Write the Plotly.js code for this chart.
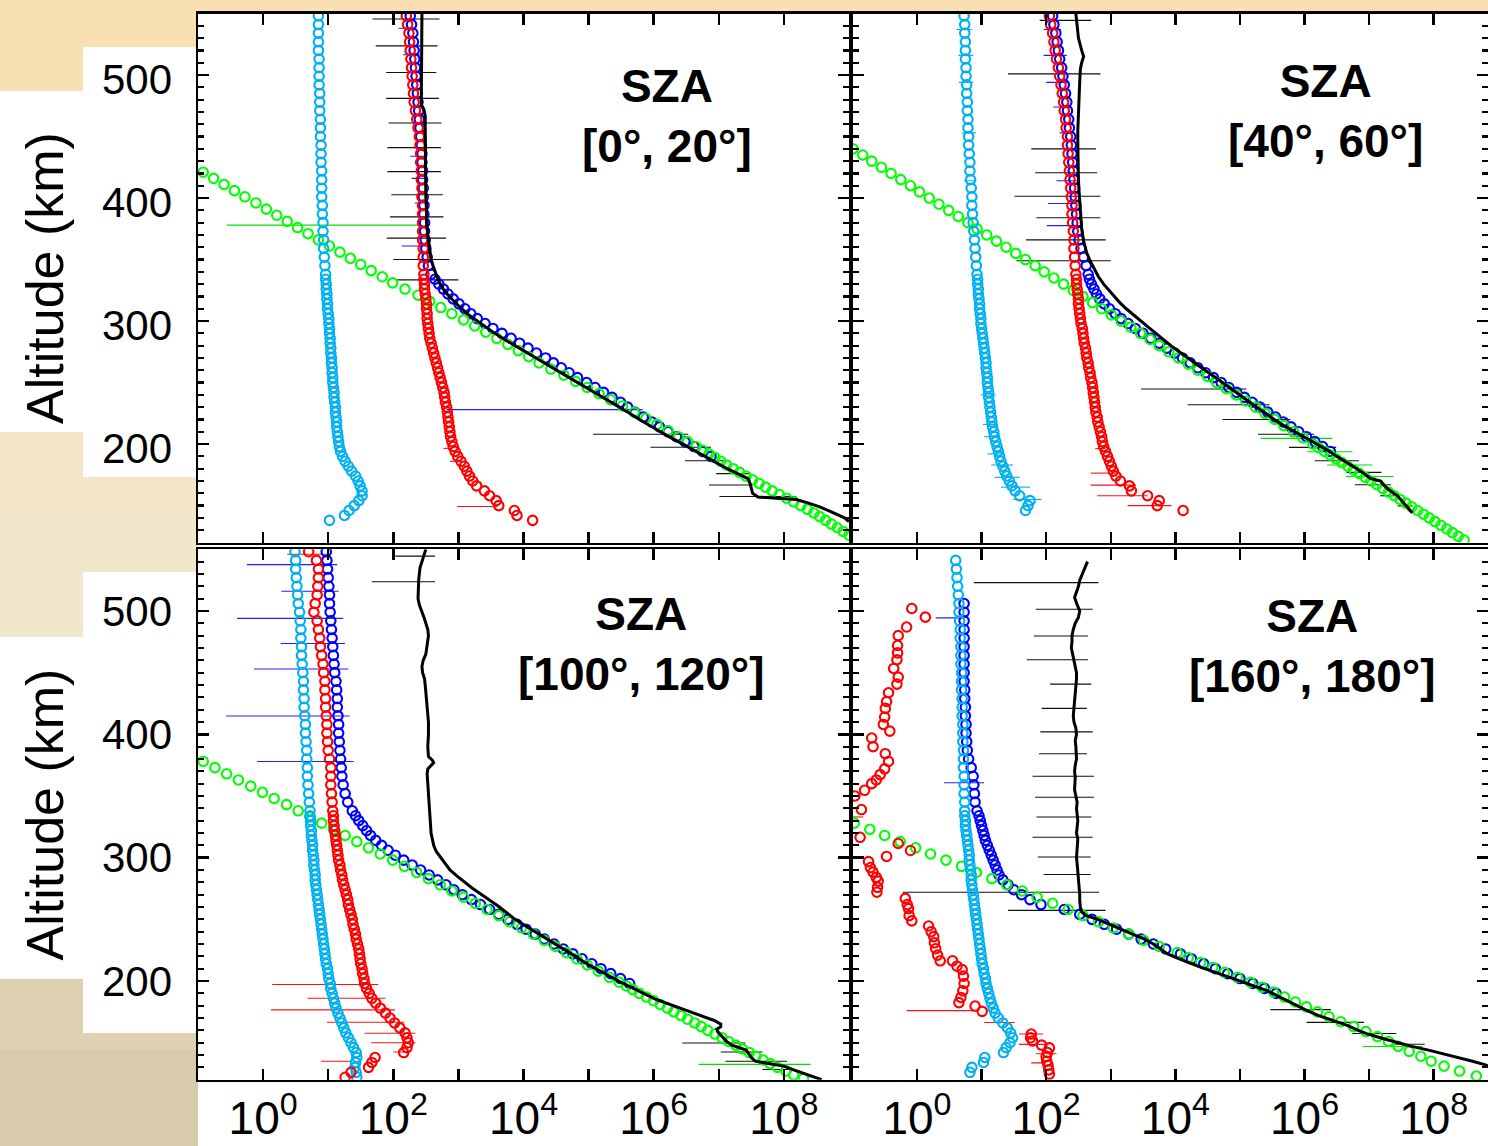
<!DOCTYPE html>
<html><head><meta charset="utf-8">
<script src="https://cdn.plot.ly/plotly-3.0.1.min.js"></script>
<style>html,body{margin:0;padding:0;background:#fff;}#chart{width:1488px;height:1146px;}</style>
</head><body><div id="chart"></div>
<script>
// ===================== DATA (log10 of density, altitude in km) =====================
// Shared altitude grid of the retrieved ion profiles (cyan, red, blue markers)
const ALT_HI = [548,541,534,527,520,513,506,499,492,485,478,471,464,457,450,443,436,429,422,415,408,401,394,387,380,373,366,359,352,345,338];
const ALT_LO = [334,330,326,322,318,314,310,306,302,298,
                294,290,286,282,278,274,270,266,262,258,
                254,250,246,242,238,234,230,226,222,218,
                214,210,206,202,198,194,190,186,182,178,
                174,170,166,162,158,154,150,146,142,138,
                134,130,126,122];

// ---- SZA [0°, 20°] (top left) ----
const TL_CYAN = [0.85,0.85,0.85,0.85,0.85,0.86,0.86,0.86,0.86,0.87,0.87,0.87,0.88,0.88,0.88,0.89,0.89,0.89,0.90,0.90,0.90,0.90,0.91,0.91,0.92,0.92,0.93,0.93,0.94,0.95,0.96,
  0.96,0.97,0.97,0.98,0.98,0.99,0.99,1.00,1.01,1.01,
  1.02,1.02,1.03,1.03,1.04,1.04,1.05,1.05,1.06,1.06,
  1.07,1.07,1.08,1.09,1.09,1.10,1.11,1.11,1.12,1.13,
  1.13,1.14,1.15,1.16,1.17,1.19,1.22,1.26,1.31,1.36,
  1.42,1.46,1.49,1.52,1.52,1.47,1.40,1.32,1.25,1.02,
  null,null,null,null];
const TL_RED = [2.20,2.22,2.24,2.25,2.26,2.27,2.28,2.29,2.30,2.31,2.32,2.34,2.36,2.38,2.40,2.41,2.42,2.42,2.43,2.43,2.44,2.44,2.45,2.45,2.45,2.45,2.45,2.46,2.46,2.46,2.47,
  2.47,2.48,2.48,2.49,2.50,2.51,2.51,2.52,2.52,2.53,
  2.54,2.55,2.56,2.58,2.60,2.62,2.64,2.66,2.68,2.70,
  2.72,2.74,2.76,2.78,2.79,2.80,2.82,2.83,2.84,2.85,
  2.86,2.87,2.88,2.90,2.92,2.95,2.99,3.04,3.09,3.13,
  3.17,3.22,3.28,3.40,3.48,3.58,3.62,3.86,3.90,4.14,
  null,null,null,null];
const TL_BLUE = [2.26,2.28,2.30,2.31,2.32,2.33,2.34,2.35,2.36,2.37,2.38,2.39,2.40,2.41,2.42,2.43,2.44,2.44,2.45,2.45,2.46,2.46,2.47,2.47,2.48,2.48,2.49,2.50,2.52,2.54,2.58,
  2.64,2.70,2.77,2.84,2.92,3.01,3.10,3.19,3.29,3.41,
  3.53,3.67,3.81,3.94,4.07,4.20,4.34,4.46,4.58,4.70,
  4.83,4.97,5.10,5.23,5.36,5.49,5.60,5.71,5.84,5.97,
  6.09,6.22,6.35,6.48,6.62,6.75,6.88,null,null,null,
  null,null,null,null,null,null,null,null,null,null,
  null,null,null,null];
const TL_GREEN_ALT = [421,416,411,406,401,396,391,386,381,376,371,366,361,356,351,346,341,336,331,326,321,316,311,306,301,296,291,286,281,276,271,266,261,256,251,246,241,236,231,226,221,216,211,206,202,198,195,192,189,186,183,180,177,174,171,168,165,162,159,156,153,150,147,144,141,138,135,132,129,126];
const TL_GREEN = [-0.92,-0.76,-0.60,-0.44,-0.28,-0.11,0.05,0.21,0.37,0.53,0.69,0.85,1.02,1.18,1.34,1.50,1.66,1.83,1.99,2.18,2.38,2.56,2.73,2.90,3.08,3.25,3.42,3.59,3.76,3.92,4.08,4.24,4.42,4.62,4.80,4.98,5.16,5.34,5.52,5.70,5.88,6.05,6.22,6.38,6.52,6.65,6.75,6.85,6.94,7.03,7.12,7.22,7.32,7.42,7.52,7.62,7.72,7.82,7.93,8.04,8.15,8.26,8.36,8.46,8.55,8.64,8.73,8.82,8.91,9.00];
const TL_BLACK_ALT = [550,540,530,520,510,500,490,480,476,472,467,460,450,440,430,420,410,400,390,380,370,360,350,345,340,335,330,325,320,315,310,305,300,295,290,285,280,275,270,265,260,255,250,245,240,235,230,225,220,215,210,205,200,195,190,185,180,175,172,168,164,160,157,156,155,152,149,145,140,137];
const TL_BLACK = [2.44,2.44,2.43,2.43,2.44,2.44,2.43,2.43,2.43,2.47,2.49,2.49,2.49,2.49,2.49,2.49,2.50,2.50,2.51,2.51,2.53,2.55,2.58,2.61,2.64,2.68,2.72,2.78,2.86,2.95,3.05,3.16,3.29,3.43,3.56,3.71,3.87,4.05,4.21,4.37,4.53,4.69,4.85,5.01,5.16,5.32,5.48,5.63,5.78,5.94,6.10,6.27,6.45,6.62,6.78,6.95,7.13,7.33,7.45,7.48,7.50,7.52,7.60,7.85,8.19,8.38,8.55,8.72,8.93,9.00];
// error bars: [altitude, log10 low end, log10 high end]
const TL_ERR_BLACK = [[545.5,1.68,2.71],[523.7,1.73,2.68],[502,1.89,2.66],[481,1.89,2.70],[461,1.93,2.74],[441,1.91,2.73],[421.5,1.91,2.73],[402.7,1.97,2.76],[384.7,1.95,2.77],[367.4,1.90,2.81],[350,2.00,2.86],[333.5,2.06,3.00],[208,5.07,6.53],[197.4,5.95,6.88],[186.4,6.48,7.17],[176,6.96,7.48],[166.7,6.85,7.52],[157.4,7.01,8.19]];
const TL_ERR_GREEN = [[378,-0.56,2.40]];
const TL_ERR_BLUE = [[538,2.08,2.31],[516.5,2.15,2.41],[434,2.26,2.49],[416,2.28,2.51],[396,2.33,2.56],[361,2.13,2.56],[228,2.82,5.83]];
const TL_ERR_RED = [[196.5,2.77,2.90],[186,2.87,3.07],[149.3,2.98,3.60]];

// ---- SZA [40°, 60°] (top right) ----
const TR_CYAN = [0.73,0.74,0.74,0.75,0.75,0.75,0.76,0.76,0.77,0.77,0.78,0.78,0.79,0.79,0.80,0.80,0.81,0.82,0.82,0.83,0.84,0.85,0.85,0.86,0.87,0.88,0.89,0.90,0.91,0.92,0.93,
  0.94,0.94,0.95,0.95,0.96,0.97,0.97,0.98,0.99,0.99,
  1.00,1.01,1.02,1.03,1.04,1.05,1.06,1.07,1.07,1.08,
  1.09,1.09,1.10,1.11,1.11,1.12,1.13,1.14,1.15,1.16,
  1.17,1.19,1.20,1.22,1.24,1.26,1.28,1.30,1.33,1.36,
  1.39,1.43,1.47,1.52,1.59,1.75,1.72,1.68,null,null,
  null,null,null,null];
const TR_RED = [2.05,2.07,2.10,2.12,2.14,2.16,2.19,2.21,2.23,2.25,2.27,2.28,2.30,2.31,2.33,2.33,2.34,2.35,2.36,2.37,2.38,2.39,2.40,2.40,2.41,2.42,2.43,2.43,2.44,2.45,2.46,
  2.47,2.47,2.48,2.49,2.50,2.50,2.51,2.52,2.53,2.54,
  2.56,2.57,2.58,2.59,2.61,2.62,2.63,2.65,2.66,2.68,
  2.69,2.71,2.72,2.73,2.74,2.75,2.76,2.77,2.79,2.80,
  2.82,2.84,2.86,2.87,2.89,2.92,2.95,2.98,3.01,3.04,
  3.08,3.15,3.29,3.32,3.57,3.75,3.72,4.12,null,null,
  null,null,null,null];
const TR_BLUE = [2.10,2.12,2.15,2.17,2.19,2.21,2.24,2.26,2.28,2.30,2.32,2.33,2.35,2.36,2.38,2.39,2.40,2.41,2.42,2.43,2.44,2.45,2.46,2.47,2.48,2.49,2.51,2.54,2.58,2.62,2.65,
  2.67,2.70,2.74,2.78,2.83,2.90,2.98,3.07,3.16,3.27,
  3.38,3.50,3.62,3.75,3.87,3.99,4.11,4.23,4.35,4.47,
  4.59,4.71,4.83,4.95,5.07,5.19,5.31,5.43,5.55,5.67,
  5.79,5.91,6.03,6.16,6.28,6.40,null,null,null,null,
  null,null,null,null,null,null,null,null,null,null,
  null,null,null,null];
const TR_GREEN_ALT = [440,435,430,425,420,415,410,405,400,395,390,385,380,375,370,365,360,355,350,345,340,335,330,325,320,315,310,305,300,295,290,285,280,275,270,265,260,255,250,245,240,235,230,225,220,215,210,205,200,197,194,191,188,185,182,179,176,173,170,167,164,161,158,155,152,149,146,143,140,137,134,131,128,125,122];
const TR_GREEN = [-0.99,-0.84,-0.70,-0.55,-0.40,-0.25,-0.10,0.04,0.19,0.34,0.49,0.64,0.79,0.93,1.08,1.23,1.38,1.53,1.68,1.83,1.97,2.12,2.27,2.42,2.57,2.72,2.86,3.01,3.16,3.31,3.46,3.61,3.75,3.90,4.05,4.20,4.35,4.50,4.64,4.79,4.94,5.09,5.24,5.39,5.54,5.68,5.83,5.98,6.13,6.22,6.31,6.40,6.49,6.58,6.67,6.76,6.85,6.94,7.03,7.12,7.21,7.30,7.39,7.48,7.57,7.66,7.75,7.84,7.93,8.02,8.11,8.20,8.29,8.38,8.47];
const TR_BLACK_ALT = [550,540,530,520,515,510,505,495,485,475,465,455,445,435,425,415,405,395,385,375,365,355,348,342,336,330,325,320,315,310,305,300,295,290,285,280,275,270,265,260,255,250,245,240,235,230,225,220,215,210,205,200,195,190,185,180,175,172,170,167,163,158,153,148,144];
const TR_BLACK = [2.46,2.48,2.50,2.55,2.58,2.55,2.53,2.52,2.51,2.50,2.49,2.49,2.49,2.49,2.50,2.50,2.51,2.52,2.53,2.55,2.58,2.63,2.69,2.75,2.81,2.89,2.97,3.05,3.14,3.24,3.35,3.46,3.58,3.70,3.81,3.93,4.06,4.19,4.33,4.46,4.60,4.73,4.86,4.99,5.12,5.26,5.40,5.53,5.68,5.85,6.02,6.20,6.36,6.50,6.66,6.81,6.95,7.02,7.18,7.22,7.30,7.44,7.52,7.60,7.67];
const TR_ERR_BLACK = [[544.4,1.90,2.70],[500.9,1.41,2.84],[440,1.77,2.77],[420.6,1.83,2.79],[401.5,1.51,2.84],[384,1.85,2.84],[366,1.69,2.92],[349,1.54,3.00],[244.8,3.47,5.10],[232,4.19,5.46],[220,4.73,5.78],[208,5.28,6.15],[197.3,5.76,6.49],[186.4,6.16,6.84],[177,6.65,7.19],[167,6.78,7.34],[158,7.17,7.39],[149.7,7.44,7.67]];
const TR_ERR_GREEN = [[204.6,5.32,6.43],[193.8,6.04,6.74],[183,6.35,7.05],[173.6,6.64,7.38]];
const TR_ERR_RED = [[196.3,2.76,2.92],[176.4,2.69,3.10],[166.6,2.69,3.39],[158,2.79,3.57],[150,3.26,3.94]];
const TR_ERR_BLUE = [[537,1.96,2.23],[516,1.96,2.32],[494,2.00,2.36],[474,2.11,2.36],[453,2.21,2.43],[414,2.16,2.48],[395.5,2.03,2.48],[377.6,2.01,2.53]];
const TR_ERR_CYAN = [[537,0.61,0.85],[516,0.64,0.87],[494,0.65,0.87],[453,0.70,0.91],[414,0.73,0.92],[240,0.99,1.22],[216,1.02,1.25],[206,1.04,1.28],[192,1.09,1.35],[183,1.15,1.49],[173,1.20,1.59],[165,1.30,1.75],[155,1.49,1.93]];

// ---- SZA [100°, 120°] (bottom left) ----
const BL_CYAN = [0.49,0.50,0.50,0.51,0.52,0.53,0.54,0.56,0.57,0.58,0.58,0.59,0.59,0.60,0.61,0.62,0.62,0.63,0.63,0.64,0.65,0.65,0.66,0.67,0.67,0.68,0.68,0.69,0.70,0.71,0.72,
  0.72,0.73,0.73,0.74,0.74,0.75,0.76,0.76,0.77,0.78,
  0.78,0.79,0.80,0.80,0.81,0.82,0.83,0.84,0.85,0.86,
  0.87,0.88,0.89,0.90,0.91,0.92,0.93,0.94,0.95,0.96,
  0.97,0.99,1.00,1.01,1.03,1.04,1.06,1.08,1.10,1.12,
  1.15,1.18,1.21,1.24,1.27,1.31,1.35,1.39,1.43,1.44,
  1.42,1.41,1.43,1.44];
const BL_RED = [0.70,0.82,0.85,0.85,0.84,0.83,0.80,0.78,0.83,0.85,0.87,0.88,0.90,0.92,0.93,0.95,0.95,0.96,0.96,0.97,0.98,0.98,0.99,1.00,1.02,1.04,1.04,1.04,1.05,1.06,1.07,
  1.08,1.08,1.09,1.10,1.11,1.12,1.13,1.14,1.15,1.16,
  1.18,1.19,1.21,1.22,1.24,1.26,1.28,1.30,1.31,1.33,
  1.35,1.37,1.38,1.40,1.42,1.43,1.45,1.47,1.48,1.49,
  1.50,1.52,1.53,1.55,1.56,1.59,1.63,1.67,1.73,1.80,
  1.88,1.95,2.02,2.10,2.18,2.21,2.23,2.21,2.16,1.72,
  1.67,1.62,1.35,1.26];
const BL_BLUE = [0.97,0.98,0.99,1.00,1.01,1.02,1.02,1.03,1.04,1.05,1.06,1.07,1.08,1.09,1.10,1.12,1.13,1.14,1.14,1.15,1.16,1.16,1.17,1.18,1.19,1.20,1.21,1.23,1.26,1.30,1.37,
  1.42,1.47,1.53,1.59,1.65,1.73,1.82,1.92,2.03,2.16,
  2.29,2.42,2.55,2.68,2.81,2.93,3.06,3.20,3.34,3.48,
  3.62,3.76,3.90,4.04,4.18,4.32,4.47,4.61,4.76,4.90,
  5.05,5.19,5.34,5.49,5.63,null,null,null,null,null,
  null,null,null,null,null,null,null,null,null,null,
  null,null,null,null];
const BL_GREEN_ALT = [378,373,368,363,358,353,348,343,338,333,328,323,318,313,308,303,298,293,288,283,278,273,268,263,258,253,248,243,238,233,228,223,218,213,208,203,199,196,193,190,187,184,181,178,175,172,169,166,163,160,157,154,151,148,145,142,139,136,133,130,127,124,121];
const BL_GREEN = [-0.92,-0.74,-0.56,-0.38,-0.19,-0.01,0.17,0.36,0.54,0.72,0.90,1.08,1.26,1.44,1.62,1.80,1.99,2.17,2.36,2.54,2.72,2.90,3.08,3.26,3.44,3.62,3.79,3.97,4.15,4.32,4.49,4.66,4.82,4.98,5.15,5.32,5.47,5.58,5.68,5.78,5.89,6.00,6.10,6.21,6.31,6.42,6.52,6.63,6.73,6.83,6.94,7.05,7.15,7.26,7.36,7.47,7.57,7.68,7.79,7.90,8.03,8.15,8.30];
const BL_BLACK_ALT = [550,545,540,535,525,515,510,505,500,495,490,485,480,475,470,465,460,455,450,445,440,430,420,410,400,390,382,379,377,375,372,368,360,350,340,330,320,315,310,305,300,295,290,285,280,275,270,265,260,255,250,245,240,235,230,225,220,215,210,205,200,195,190,185,180,176,172,168,165,163,161,159,155,151,148,146,144,141,138,135,133,131,128,124,120];
const BL_BLACK = [2.50,2.47,2.43,2.41,2.39,2.38,2.38,2.40,2.44,2.47,2.50,2.53,2.54,2.53,2.52,2.50,2.46,2.44,2.45,2.48,2.49,2.51,2.53,2.54,2.54,2.53,2.54,2.60,2.62,2.58,2.53,2.52,2.53,2.54,2.55,2.56,2.58,2.60,2.62,2.66,2.73,2.80,2.87,2.98,3.10,3.22,3.36,3.50,3.63,3.75,3.87,4.02,4.18,4.34,4.50,4.66,4.80,4.94,5.11,5.28,5.46,5.65,5.84,6.04,6.30,6.52,6.73,6.93,7.03,7.03,6.97,6.98,7.05,7.12,7.20,7.30,7.42,7.46,7.50,7.56,7.80,8.00,8.15,8.36,8.58];
const BL_ERR_BLACK = [[544.5,2.03,2.64],[523.7,1.67,2.64],[149.7,6.44,7.41],[142.5,7.03,7.67],[135,7.10,8.05],[128.3,7.67,8.15]];
const BL_ERR_GREEN = [[132.4,6.69,8.41]];
const BL_ERR_BLUE = [[537.6,-0.25,1.14],[516,0.28,1.16],[494,-0.40,1.23],[473.6,0.27,1.26],[453,-0.14,1.31],[414.8,-0.57,1.33],[378,-0.09,1.39]];
const BL_ERR_RED = [[546,0.37,1.00],[197.2,0.14,1.77],[186,0.68,1.88],[176.6,0.12,2.03],[166.6,0.98,2.17],[157.7,1.56,2.34],[149.9,1.66,2.34],[142.4,2.00,2.23],[134.9,0.89,1.36]];

// ---- SZA [160°, 180°] (bottom right) ----
const BR_CYAN = [null,0.60,0.61,0.62,0.63,0.64,0.65,0.65,0.66,0.67,0.67,0.68,0.68,0.68,0.69,0.69,0.69,0.70,0.70,0.70,0.71,0.71,0.71,0.72,0.72,0.72,0.73,0.73,0.73,0.74,0.74,
  0.74,0.75,0.75,0.76,0.77,0.78,0.79,0.80,0.81,0.81,
  0.82,0.83,0.84,0.84,0.85,0.86,0.87,0.88,0.89,0.90,
  0.91,0.92,0.93,0.94,0.95,0.96,0.97,0.98,0.99,1.00,
  1.01,1.03,1.04,1.06,1.07,1.09,1.11,1.13,1.15,1.18,
  1.21,1.26,1.33,1.40,1.45,1.48,1.44,1.38,1.34,1.05,
  1.03,0.85,0.82,null];
const BR_BLUE = [null,null,null,null,null,null,0.73,0.73,0.73,0.73,0.73,0.73,0.73,0.73,0.73,0.73,0.74,0.74,0.75,0.75,0.76,0.76,0.77,0.78,0.80,0.84,0.87,0.88,0.89,0.90,0.93,
  0.96,0.98,1.00,1.02,1.04,1.06,1.09,1.12,1.15,1.18,
  1.21,1.24,1.27,1.33,1.41,1.50,1.62,1.75,1.92,2.28,
  2.52,2.71,2.90,3.09,3.28,3.47,3.66,3.85,4.08,4.25,
  4.44,4.62,4.81,5.00,5.20,5.38,5.56,null,null,null,
  null,null,null,null,null,null,null,null,null,null,
  null,null,null,null];
const BR_RED_ALT = [502,495,487,480,472,466,460.5,453.4,446.4,440.7,433.7,426.6,421,414,408,402.6,397,390,384.3,378,372,367.3,363,360,354.6,350,339,316.5,311.5,305.8,301,296.8,292,288.3,284,281,276,272,267,262,258.7,253,248.8,244.6,240,236,231,226.2,221,216.4,216.4,212,209.3,204,198,192,186.7,182.5,179.7,175.4,157,154,151.4,148,145.8,142,138.7,135,131.7,128,124.6];
const BR_RED = [-0.08,0.13,-0.16,-0.29,-0.30,-0.30,-0.31,-0.36,-0.29,-0.31,-0.44,-0.47,-0.49,-0.50,-0.52,-0.42,-0.70,-0.68,-0.49,-0.44,-0.50,-0.57,-0.63,-0.70,-0.81,-0.96,-0.86,-0.88,-0.29,-0.10,-0.47,-0.75,-0.72,-0.68,-0.63,-0.60,-0.61,-0.62,-0.18,-0.15,-0.13,-0.12,-0.08,0.18,0.22,0.26,0.27,0.29,0.32,0.36,0.55,0.62,0.70,0.72,0.73,0.71,0.68,0.65,0.90,1.01,1.77,1.76,1.79,1.93,2.05,2.02,2.00,2.01,2.03,2.04,2.05];
const BR_GREEN_ALT = [328,323,318,313,308,303,298,293,288,283,278,273,268,263,258,253,248,243,238,233,228,223,219,215,211,207,203,199,195,191,187,183,179,175,171,167,163,159,155,151,147,143,139,135,131,127,123];
const BR_GREEN = [-0.97,-0.73,-0.50,-0.26,-0.02,0.21,0.45,0.69,0.92,1.16,1.39,1.63,1.86,2.10,2.34,2.57,2.81,3.04,3.28,3.51,3.75,4.03,4.20,4.39,4.58,4.76,4.96,5.16,5.34,5.52,5.69,5.86,6.03,6.20,6.38,6.56,6.76,6.95,7.13,7.30,7.45,7.62,7.80,7.96,8.16,8.40,8.66];
const BR_BLACK_ALT = [540,535,530,525,520,515,511,505,500,495,490,485,480,475,470,465,460,455,450,445,440,435,430,425,420,415,410,405,400,395,390,385,380,375,370,365,360,355,350,345,340,335,330,325,320,315,310,305,300,295,290,285,280,275,270,265,260,256,253,250,246,242,238,234,230,226,222,218,214,211,207,203,199,195,192,188,184,180,176,172,168,164,160,157,153,150,147,144,141,138,135,132,130];
const BR_BLACK = [2.64,2.60,2.55,2.52,2.50,2.46,2.44,2.48,2.52,2.50,2.45,2.42,2.40,2.40,2.39,2.41,2.43,2.46,2.47,2.47,2.46,2.45,2.44,2.44,2.43,2.42,2.43,2.46,2.47,2.45,2.46,2.47,2.47,2.45,2.44,2.45,2.44,2.44,2.46,2.48,2.47,2.48,2.49,2.48,2.47,2.49,2.48,2.47,2.47,2.48,2.49,2.50,2.51,2.51,2.52,2.52,2.53,2.55,2.62,2.80,2.98,3.16,3.34,3.52,3.66,3.77,3.88,4.06,4.25,4.40,4.62,4.84,5.05,5.27,5.43,5.58,5.73,5.88,6.04,6.22,6.45,6.66,6.83,6.98,7.24,7.45,7.66,7.92,8.15,8.40,8.60,8.80,8.90];
const BR_ERR_BLACK = [[523,0.88,2.81],[501.4,1.84,2.72],[479.7,1.81,2.65],[460.5,1.70,2.65],[440.7,2.06,2.70],[421,1.93,2.63],[402,1.91,2.72],[384.3,1.89,2.63],[366,1.79,2.74],[349,1.83,2.74],[333,1.85,2.70],[316.5,1.79,2.72],[300.5,1.87,2.69],[286.3,1.96,2.69],[272,-0.22,2.82],[257.3,1.41,2.92],[176.8,5.47,6.41],[166.5,6.03,6.92],[157.5,6.74,7.42],[148.8,7.39,7.86]];
const BR_ERR_GREEN = [[146.9,6.90,7.83]];
const BR_ERR_RED = [[333,-0.99,-0.83],[176,-0.16,0.96],[166.4,1.04,1.51],[157,1.58,1.95],[148.6,1.58,2.03],[141,1.84,2.16],[133.6,1.77,2.00]];
const BR_ERR_BLUE = [[494.4,0.29,0.73],[360.8,0.42,1.04]];

// Labels and tick positions
const PANEL_LABELS = ['SZA<br>[0°, 20°]', 'SZA<br>[40°, 60°]', 'SZA<br>[100°, 120°]', 'SZA<br>[160°, 180°]'];
const X_TICK_VALS = [1, 100, 1e4, 1e6, 1e8];
const X_TICK_TEXT = ['10<sup>0</sup>', '10<sup>2</sup>', '10<sup>4</sup>', '10<sup>6</sup>', '10<sup>8</sup>'];
const X_MINOR_VALS = [10, 1e3, 1e5, 1e7];
const Y_TITLE = 'Altitude (km)';

// ===================== BUILD =====================
const ALT_GRID = ALT_HI.concat(ALT_LO);
const C_CYAN = '#00b0f0', C_RED = '#ff0000', C_BLUE = '#0000ff', C_GREEN = '#00ff00', C_BLACK = '#000000';
const FONT = 'Liberation Sans, Arial, sans-serif';

function toDensity(logs) { return logs.map(v => (v === null ? null : Math.pow(10, v))); }

function markerTrace(ax, alts, logs, color) {
  return { type: 'scatter', mode: 'markers', xaxis: 'x' + ax, yaxis: 'y' + ax,
    x: toDensity(logs), y: alts, hoverinfo: 'skip',
    marker: { symbol: 'circle-open', size: 9.5, color: color, line: { width: 2.1, color: color } } };
}
function lineTrace(ax, alts, logs) {
  return { type: 'scatter', mode: 'lines', xaxis: 'x' + ax, yaxis: 'y' + ax,
    x: toDensity(logs), y: alts, hoverinfo: 'skip', line: { color: C_BLACK, width: 3 } };
}
function errTrace(ax, list, color, width) {
  const x = [], y = [];
  list.forEach(([a, lo, hi]) => { x.push(Math.pow(10, lo), Math.pow(10, hi), null); y.push(a, a, null); });
  return { type: 'scatter', mode: 'lines', xaxis: 'x' + ax, yaxis: 'y' + ax, x: x, y: y,
    hoverinfo: 'skip', line: { color: color, width: width || 1 } };
}

const panels = [
  { ax: '', cyan: TL_CYAN, red: TL_RED, blue: TL_BLUE, gA: TL_GREEN_ALT, g: TL_GREEN, kA: TL_BLACK_ALT, k: TL_BLACK,
    err: [[TL_ERR_BLACK, '#111'], [TL_ERR_GREEN, '#00e000'], [TL_ERR_BLUE, '#2020ff'], [TL_ERR_RED, '#ff1010']] },
  { ax: '2', cyan: TR_CYAN, red: TR_RED, blue: TR_BLUE, gA: TR_GREEN_ALT, g: TR_GREEN, kA: TR_BLACK_ALT, k: TR_BLACK,
    err: [[TR_ERR_BLACK, '#111'], [TR_ERR_GREEN, '#00e000'], [TR_ERR_BLUE, '#2020ff'], [TR_ERR_RED, '#ff1010'], [TR_ERR_CYAN, C_CYAN]] },
  { ax: '3', cyan: BL_CYAN, red: BL_RED, blue: BL_BLUE, gA: BL_GREEN_ALT, g: BL_GREEN, kA: BL_BLACK_ALT, k: BL_BLACK,
    err: [[BL_ERR_BLACK, '#111'], [BL_ERR_GREEN, '#00e000'], [BL_ERR_BLUE, '#2020ff'], [BL_ERR_RED, '#ff1010']] },
  { ax: '4', cyan: BR_CYAN, red: null, blue: BR_BLUE, gA: BR_GREEN_ALT, g: BR_GREEN, kA: BR_BLACK_ALT, k: BR_BLACK,
    err: [[BR_ERR_BLACK, '#111'], [BR_ERR_GREEN, '#00e000'], [BR_ERR_BLUE, '#2020ff'], [BR_ERR_RED, '#ff1010']] }
];

const traces = [];
panels.forEach(p => {
  p.err.forEach(([list, col]) => traces.push(errTrace(p.ax, list, col, 1.1)));
  traces.push(markerTrace(p.ax, ALT_GRID, p.blue, C_BLUE));
  traces.push(markerTrace(p.ax, p.gA, p.g, C_GREEN));
  traces.push(markerTrace(p.ax, ALT_GRID, p.cyan, C_CYAN));
  if (p.red) traces.push(markerTrace(p.ax, ALT_GRID, p.red, C_RED));
  else traces.push(markerTrace(p.ax, BR_RED_ALT, BR_RED, C_RED));
  traces.push(lineTrace(p.ax, p.kA, p.k));
});

// ===================== LAYOUT =====================
const W = 1488, H = 1146;
const px = v => v / W, py = v => 1 - v / H;
const LEFT_X = [px(198), px(849)], RIGHT_X = [px(853), 1];
const TOP_Y = [py(542.5), py(13.5)], BOT_Y = [py(1079.7), py(549.3)];

const axBase = { showline: true, linecolor: '#000', linewidth: 2.5, mirror: 'ticks', ticks: 'inside',
  ticklen: 11, tickwidth: 2.5, tickcolor: '#000', showgrid: false, zeroline: false, fixedrange: true };
function xAxis(domain, range, labels) {
  return Object.assign({}, axBase, { type: 'log', domain: domain, range: range, tickmode: 'array',
    tickvals: X_TICK_VALS, ticktext: X_TICK_TEXT, showticklabels: labels, ticklabelstandoff: -3,
    tickfont: { family: FONT, size: 46, color: '#000' },
    minor: { tickmode: 'array', tickvals: X_MINOR_VALS, ticks: 'inside', ticklen: 11, tickwidth: 2.5, tickcolor: '#000', showgrid: false } });
}
function yAxis(domain, labels, shift) {
  const a = Object.assign({}, axBase, { domain: domain, range: [120, 550], tick0: 0, dtick: 100,
    showticklabels: labels, ticklabelstandoff: 15, ticklabelshift: shift,
    tickfont: { family: FONT, size: 42, color: '#000' },
    minor: { dtick: 10, ticks: 'inside', ticklen: 6, tickwidth: 2.2, tickcolor: '#000', showgrid: false } });
  if (labels) a.title = { text: Y_TITLE, font: { family: FONT, size: 52, color: '#000' }, standoff: 22 };
  return a;
}

function band(y0, y1, color, x0, x1) {
  return { type: 'rect', xref: 'paper', yref: 'paper', layer: 'below', x0: x0 === undefined ? 0 : x0, x1: x1 === undefined ? px(198) : x1,
    y0: py(y1), y1: py(y0), fillcolor: color, line: { width: 0 } };
}
const shapes = [
  band(0, 120, '#f9e0b3'), band(120, 300, '#f6e3bd'), band(300, 500, '#f4e6c6'), band(500, 700, '#f2e7ca'),
  band(700, 900, '#e8dcbd'), band(900, 1050, '#ddd1b2'), band(1050, 1146, '#d8cbab'),
  band(0, 12, '#f9e0b3', px(198), 1),
  band(47, 477, '#ffffff', px(83), px(198)), band(91, 432, '#ffffff', 0, px(83)),
  band(572, 1033, '#ffffff', px(83), px(198)), band(637, 979, '#ffffff', 0, px(83))
];

const annPos = [[px(667), py(116)], [px(1325), py(111)], [px(641), py(644)], [px(1312), py(646)]];
const annotations = PANEL_LABELS.map((t, i) => ({
  xref: 'paper', yref: 'paper', x: annPos[i][0], y: annPos[i][1], xanchor: 'center', yanchor: 'middle',
  text: '<b>' + t.replace('<br>', '</b><br><b>') + '</b>', showarrow: false,
  font: { family: FONT, size: 46, color: '#000' }
}));

const layout = {
  width: W, height: H, autosize: false, margin: { l: 0, r: 0, t: 0, b: 0 },
  paper_bgcolor: '#ffffff', plot_bgcolor: '#ffffff', showlegend: false, hovermode: false,
  xaxis: xAxis(LEFT_X, [-1, 9], false), yaxis: yAxis(TOP_Y, true, 4),
  xaxis2: xAxis(RIGHT_X, [-0.99, 8.84], false), yaxis2: yAxis(TOP_Y, false, 0),
  xaxis3: xAxis(LEFT_X, [-1, 9], true), yaxis3: yAxis(BOT_Y, true, 0),
  xaxis4: xAxis(RIGHT_X, [-0.99, 8.84], true), yaxis4: yAxis(BOT_Y, false, 0),
  shapes: shapes, annotations: annotations
};
layout.xaxis.anchor = 'y'; layout.yaxis.anchor = 'x';
layout.xaxis2.anchor = 'y2'; layout.yaxis2.anchor = 'x2';
layout.xaxis3.anchor = 'y3'; layout.yaxis3.anchor = 'x3';
layout.xaxis4.anchor = 'y4'; layout.yaxis4.anchor = 'x4';

Plotly.newPlot('chart', traces, layout, { displayModeBar: false, staticPlot: true });
</script>
</body></html>
